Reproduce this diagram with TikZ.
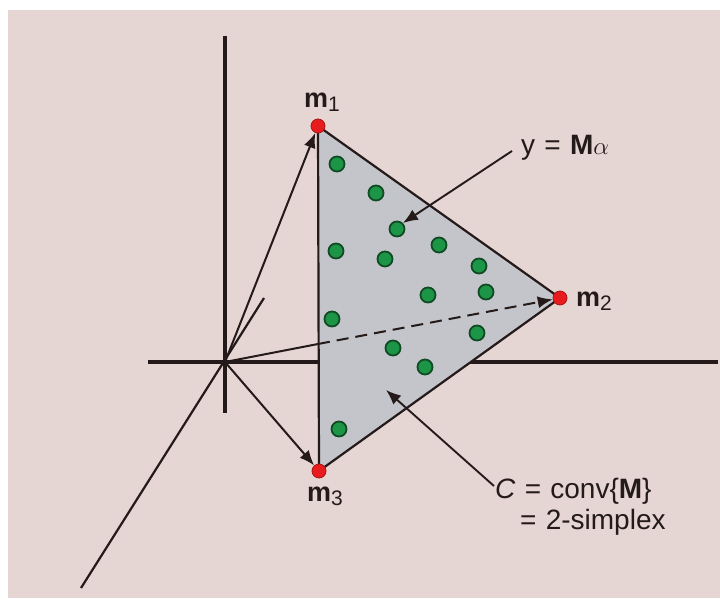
\documentclass[tikz,border=0pt]{standalone}
\usepackage{fontspec}
\setmainfont{Liberation Sans}
\usetikzlibrary{arrows.meta}
\definecolor{bgpink}{RGB}{229,213,211}
\definecolor{simplexfill}{RGB}{196,197,203}
\definecolor{axiscol}{RGB}{36,26,26}
\definecolor{dotgreen}{RGB}{28,150,70}
\definecolor{dotgreenline}{RGB}{16,75,36}
\definecolor{dotred}{RGB}{232,28,30}
\definecolor{dotredline}{RGB}{170,20,20}
\newcommand{\eqsp}{\hspace{0.33em}=\hspace{0.33em}}
\tikzset{
  axisline/.style={draw=axiscol, line width=3.3pt},
  edgeline/.style={draw=axiscol, line width=2.2pt},
  vecarrow/.style={draw=axiscol, line width=2pt, -{Latex[length=15pt,width=12pt]}},
  pointer/.style={draw=axiscol, line width=1.9pt, -{Latex[length=15pt,width=12pt]}},
  gdot/.style={circle, fill=dotgreen, draw=dotgreenline, line width=1.8pt, minimum size=15pt, inner sep=0pt},
  rdot/.style={circle, fill=dotred, draw=dotredline, line width=0.8pt, minimum size=14pt, inner sep=0pt},
  lbl/.style={font=\fontsize{28}{32}\selectfont, text=axiscol, inner sep=1pt},
  mlbl/.style={font=\fontsize{27}{30}\selectfont, text=axiscol, inner sep=1pt},
}
\begin{document}
\begin{tikzpicture}[x=1pt,y=-1pt]
\useasboundingbox (0,0) rectangle (720,607);
\fill[white] (0,0) rectangle (720,607);
\fill[bgpink] (8,10) rectangle (720,598);

% axes
\coordinate (O) at (225,362);
\coordinate (ztop) at (225,36);
\coordinate (zbot) at (225,413);
\coordinate (xl) at (148,362);
\coordinate (xr) at (718,362);
\coordinate (dl) at (81,588);
\coordinate (du) at (264,298);
\draw[axisline] (ztop) -- (zbot);
\draw[axisline] (xl) -- (xr);
\draw[axisline, line width=2.2pt] (dl) -- (du);

% vertices
\coordinate (v1) at (318,126);
\coordinate (v2) at (560,298);
\coordinate (v3) at (319,471);
\coordinate (P) at (318,344);

% solid part of O->m2 (hidden by simplex afterwards)
\draw[axiscol, line width=2pt] (O) -- (P);

% simplex
\fill[simplexfill] (v1) -- (v2) -- (v3) -- cycle;
\draw[edgeline, line join=round] (v1) -- (v2) -- (v3) -- cycle;

% green points
\node[gdot] (g1) at (337,164) {};
\node[gdot] (g2) at (376,193) {};
\node[gdot] (g3) at (397,229) {};
\node[gdot] (g4) at (336,251) {};
\node[gdot] (g5) at (385,259) {};
\node[gdot] (g6) at (439,245) {};
\node[gdot] (g7) at (479,266) {};
\node[gdot] (g8) at (486,292) {};
\node[gdot] (g9) at (428,295) {};
\node[gdot] (g10) at (332,319) {};
\node[gdot] (g11) at (477,333) {};
\node[gdot] (g12) at (393,348) {};
\node[gdot] (g13) at (425,367) {};
\node[gdot] (g14) at (339,429) {};

% red vertices
\node[rdot] (m1) at (v1) {};
\node[rdot] (m2) at (v2) {};
\node[rdot] (m3) at (v3) {};

% dashed part of O->m2
\draw[axiscol, line width=2pt, dash pattern=on 12pt off 7pt, -{Latex[length=15pt,width=12pt]}] (P) -- (m2);

% vectors
\draw[vecarrow] (O) -- (m1);
\draw[vecarrow] (O) -- (m3);

% labels
\node[mlbl] (l1) at (322,102) {\textbf{m}\raisebox{-4pt}{\fontsize{21}{23}\selectfont 1}};
\node[mlbl] (l2) at (594,301) {\textbf{m}\raisebox{-4pt}{\fontsize{21}{23}\selectfont 2}};
\node[mlbl] (l3) at (325,496) {\textbf{m}\raisebox{-4pt}{\fontsize{21}{23}\selectfont 3}};

\node[lbl, anchor=west] (ylab) at (520,148) {y\eqsp\textbf{M}$\alpha$};
\coordinate (ystart) at (512,151);
\draw[pointer] (ystart) -- (g3.north east);

\node[lbl, anchor=west] (clab) at (494,491) {\textit{C}\eqsp conv\{\textbf{M}\}};
\node[lbl, anchor=west] (clab2) at (519,522) {=\hspace{0.33em}2-simplex};
\coordinate (cstart) at (494,486);
\coordinate (ctip) at (386,390);
\draw[pointer] (cstart) -- (ctip);
\end{tikzpicture}
\end{document}
